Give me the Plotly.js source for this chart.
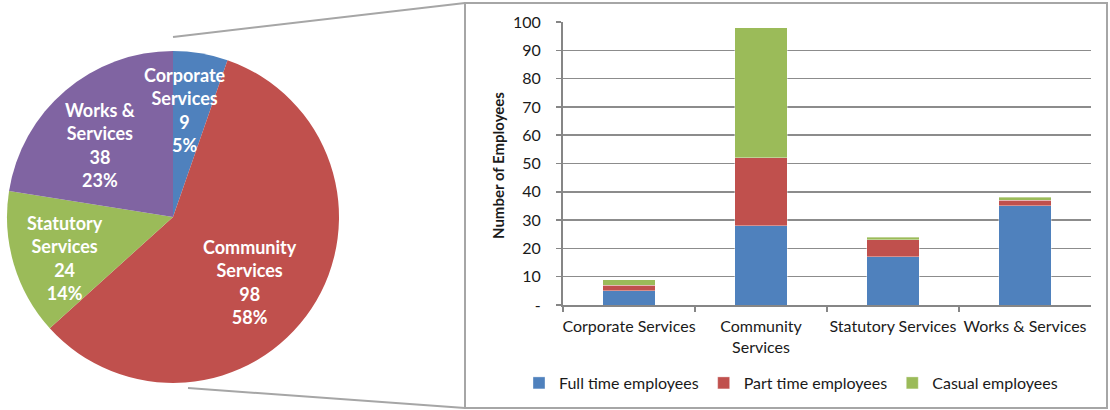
<!DOCTYPE html>
<html>
<head>
<meta charset="utf-8">
<script src="https://cdn.plot.ly/plotly-3.0.1.min.js"></script>
<style>
  html, body { margin: 0; padding: 0; background: #fff; }
  #chart { width: 1110px; height: 410px; }
</style>
</head>
<body>
<div id="chart"></div>
<script>
// Staff numbers by division
const divisions = ['Corporate Services', 'Community Services', 'Statutory Services', 'Works & Services'];
const pieLabels = ['Corporate<br>Services', 'Community<br>Services', 'Statutory<br>Services', 'Works &<br>Services'];
const divisionTotals = [9, 98, 24, 38];
const divisionShares = [5, 58, 14, 23];

// Breakdown by employment type
const fullTime = [5, 28, 17, 35];
const partTime = [2, 24, 6, 2];
const casual = [2, 46, 1, 1];
const barTickText = ['Corporate Services', 'Community<br>Services', 'Statutory Services', 'Works & Services'];
const yTickVals = [0, 10, 20, 30, 40, 50, 60, 70, 80, 90, 100];
const yTickText = ['-', '10', '20', '30', '40', '50', '60', '70', '80', '90', '100'];

const W = 1110, H = 410;
const px = x => x / W;
const py = y => 1 - y / H;

const pieColors = ['#4F81BD', '#C0504D', '#9BBB59', '#8064A2'];
const FONT = 'Lato, "Liberation Sans", sans-serif';

const pie = {
  type: 'pie',
  labels: divisions,
  values: divisionTotals,
  sort: false,
  direction: 'clockwise',
  rotation: 0,
  textinfo: 'none',
  hoverinfo: 'label+value+percent',
  marker: { colors: pieColors, line: { width: 0 } },
  domain: { x: [px(7), px(339)], y: [py(383), py(51)] },
  showlegend: false
};

const barCommon = { type: 'bar', x: divisions, marker: { line: { color: 'rgba(255,255,255,0.6)', width: 0.6 } } };
const bars = [
  Object.assign({}, barCommon, { name: 'Full time employees', y: fullTime, marker: Object.assign({}, barCommon.marker, { color: '#4F81BD' }) }),
  Object.assign({}, barCommon, { name: 'Part time employees', y: partTime, marker: Object.assign({}, barCommon.marker, { color: '#C0504D' }) }),
  Object.assign({}, barCommon, { name: 'Casual employees', y: casual, marker: Object.assign({}, barCommon.marker, { color: '#9BBB59' }) })
];

// Slice labels placed inside each wedge
const labelPos = [[185, 110], [250, 282], [65, 258], [100, 145]];
const pieAnnotations = divisions.map((d, i) => ({
  xref: 'paper', yref: 'paper',
  x: px(labelPos[i][0]), y: py(labelPos[i][1]),
  xanchor: 'center', yanchor: 'middle',
  text: pieLabels[i] + '<br>' + divisionTotals[i] + '<br>' + divisionShares[i] + '%',
  showarrow: false,
  align: 'center',
  font: { family: FONT, size: 18, color: '#ffffff', weight: 'bold' }
}));

const layout = {
  width: W, height: H,
  margin: { l: 0, r: 0, t: 0, b: 0 },
  paper_bgcolor: '#ffffff',
  plot_bgcolor: '#ffffff',
  font: { family: FONT, size: 16, color: '#1a1a1a' },
  barmode: 'stack',
  bargap: 0.6,
  xaxis: {
    domain: [px(563), px(1091)],
    type: 'category',
    tickvals: divisions,
    ticktext: barTickText,
    tickangle: 0,
    tickson: 'boundaries',
    ticks: 'outside', ticklen: 5, tickcolor: '#868686', tickwidth: 1.5,
    showline: true, linecolor: '#868686', linewidth: 2,
    showgrid: false,
    ticklabelstandoff: 6,
    tickfont: { size: 16 },
    fixedrange: true
  },
  yaxis: {
    domain: [py(305), py(22)],
    range: [0, 100],
    tickvals: yTickVals,
    ticktext: yTickText,
    ticks: 'outside', ticklen: 5, tickcolor: '#868686', tickwidth: 1.5,
    showline: true, linecolor: '#868686', linewidth: 2,
    showgrid: true, gridcolor: '#8c8c8c', gridwidth: 1.5,
    zeroline: false,
    ticklabelstandoff: 12,
    tickfont: { size: 16 },
    fixedrange: true
  },
  legend: {
    orientation: 'h',
    traceorder: 'normal',
    x: px(791), y: py(383),
    xanchor: 'center', yanchor: 'middle',
    font: { size: 16 },
    itemwidth: 30,
    bgcolor: 'rgba(0,0,0,0)'
  },
  annotations: pieAnnotations.concat([{
    xref: 'paper', yref: 'paper',
    x: px(498), y: py(166),
    xanchor: 'center', yanchor: 'middle',
    text: 'Number of Employees',
    textangle: -90,
    showarrow: false,
    font: { family: FONT, size: 15, color: '#1a1a1a', weight: 'bold' }
  }]),
  shapes: [
    // frame round the breakdown chart
    { type: 'rect', xref: 'paper', yref: 'paper', x0: px(465), x1: px(1107), y0: py(408), y1: py(3),
      line: { color: '#a6a6a6', width: 2 }, fillcolor: 'rgba(0,0,0,0)' },
    // leader lines from the pie to the frame
    { type: 'line', xref: 'paper', yref: 'paper', x0: px(173), y0: py(37), x1: px(465), y1: py(3),
      line: { color: '#a6a6a6', width: 2 } },
    { type: 'line', xref: 'paper', yref: 'paper', x0: px(188), y0: py(388), x1: px(465), y1: py(408),
      line: { color: '#a6a6a6', width: 2 } }
  ]
};

Plotly.newPlot('chart', [pie].concat(bars), layout, { displayModeBar: false, staticPlot: true });
</script>
</body>
</html>
